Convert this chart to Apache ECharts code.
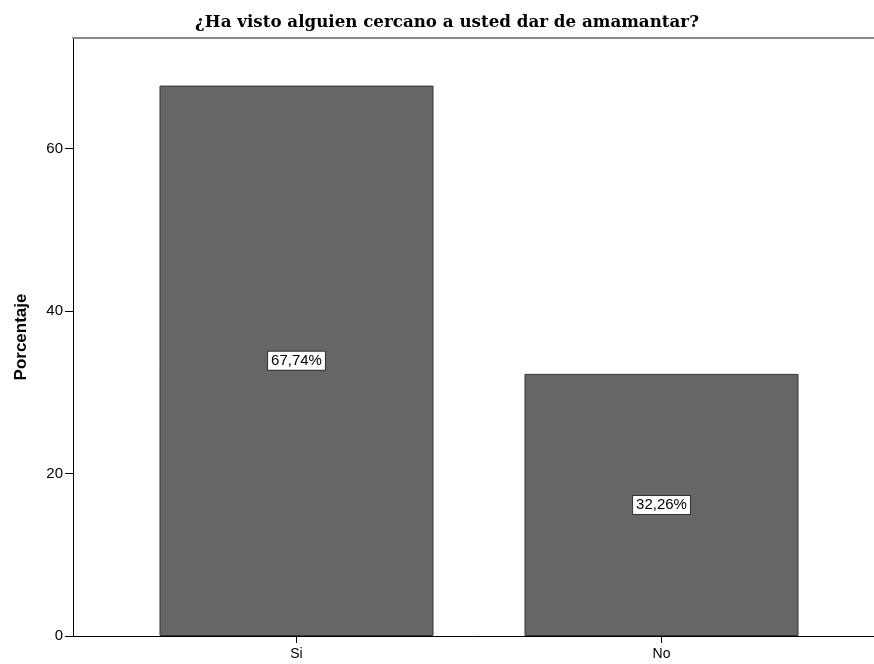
<!DOCTYPE html>
<html>
<head>
<meta charset="utf-8">
<script src="https://cdn.jsdelivr.net/npm/echarts@6/dist/echarts.min.js"></script>
<style>
  html, body { margin: 0; padding: 0; background: #fff; }
  #chart { width: 874px; height: 664px; }
</style>
</head>
<body>
<div id="chart"></div>
<script>
const categories = ['Si', 'No']
const percentValues = [67.74, 32.26]
const yMax = 73.6

const chart = echarts.init(document.getElementById('chart'))
const sans = '"Liberation Sans", Arial, sans-serif'

const option = {
  animation: false,
  backgroundColor: '#ffffff',
  title: {
    text: '¿Ha visto alguien cercano a usted dar de amamantar?',
    left: 442,
    textAlign: 'center',
    top: 9,
    textStyle: {
      fontFamily: '"DejaVu Serif", serif',
      fontWeight: 'bold',
      fontSize: 16.7,
      color: '#000'
    }
  },
  grid: [
    // bar grid
    { left: 114, width: 730, top: 38, bottom: 28 },
    // frame grid
    { left: 73, right: 0, top: 38, bottom: 28 }
  ],
  xAxis: [
    {
      gridIndex: 0,
      type: 'category',
      data: categories,
      axisLine: { show: false },
      axisTick: { show: true, alignWithLabel: true, length: 7, lineStyle: { color: '#000' } },
      axisLabel: { color: '#000', fontFamily: sans, fontSize: 14, margin: 11 }
    },
    {
      gridIndex: 1,
      type: 'value',
      min: 0,
      max: 1,
      position: 'bottom',
      axisLine: { show: true, onZero: false, lineStyle: { color: '#000', width: 1 } },
      axisTick: { show: false },
      axisLabel: { show: false },
      splitLine: { show: false }
    },
    {
      gridIndex: 1,
      type: 'value',
      min: 0,
      max: 1,
      position: 'top',
      axisLine: { show: true, onZero: false, lineStyle: { color: '#888', width: 2 } },
      axisTick: { show: false },
      axisLabel: { show: false },
      splitLine: { show: false }
    }
  ],
  yAxis: [
    {
      gridIndex: 0,
      type: 'value',
      min: 0,
      max: yMax,
      show: false
    },
    {
      gridIndex: 1,
      type: 'value',
      min: 0,
      max: yMax,
      interval: 20,
      name: 'Porcentaje',
      nameLocation: 'middle',
      nameGap: 43,
      nameTextStyle: { fontFamily: sans, fontWeight: 'bold', fontSize: 17, color: '#000' },
      axisLine: { show: true, lineStyle: { color: '#000' } },
      axisTick: { show: true, length: 8, lineStyle: { color: '#000' } },
      axisLabel: { color: '#000', fontFamily: sans, fontSize: 15, margin: 10,
        showMaxLabel: false },
      splitLine: { show: false }
    }
  ],
  series: [
    {
      type: 'bar',
      xAxisIndex: 0,
      yAxisIndex: 0,
      barWidth: 274,
      data: percentValues,
      itemStyle: { color: '#666666', borderColor: '#333333', borderWidth: 1 },
      label: {
        show: true,
        position: 'inside',
        formatter: p => p.value.toFixed(2).replace('.', ',') + '%',
        color: '#000',
        fontFamily: sans,
        fontSize: 15,
        backgroundColor: '#ffffff',
        borderColor: '#333333',
        borderWidth: 1,
        padding: [2, 3, 1, 3]
      }
    },
    {
      type: 'line',
      xAxisIndex: 1,
      yAxisIndex: 1,
      data: [],
      silent: true
    }
  ]
}

chart.setOption(option)
</script>
</body>
</html>
